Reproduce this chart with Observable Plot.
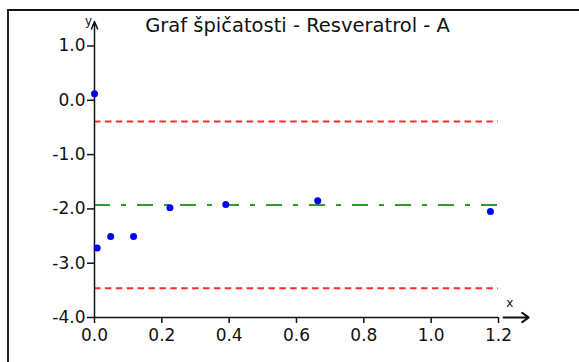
<!DOCTYPE html>
<html>
<head>
<meta charset="utf-8">
<script src="https://cdn.jsdelivr.net/npm/d3@7"></script>
<script src="https://cdn.jsdelivr.net/npm/@observablehq/plot@0.6"></script>
<style>
  html, body { margin: 0; padding: 0; background: #fff; }
  #wrap { position: relative; width: 579px; height: 362px; overflow: hidden; background: #fff; }
  #wrap svg { position: absolute; left: 0; top: 0; }
  /* panel edge: top and left sides of a sunken frame */
  #edge { position: absolute; left: 7px; top: 9px; width: 640px; height: 420px;
          border-top: 2px solid #111; border-left: 2px solid #222; pointer-events: none; }
</style>
</head>
<body>
<div id="wrap"><div id="edge"></div></div>
<script>
// Kurtosis plot – Resveratrol, series A
const title = "Graf špičatosti - Resveratrol - A";

// sample points
const xValues = [0.0, 0.008, 0.048, 0.116, 0.224, 0.39, 0.663, 1.176];
const yValues = [0.12, -2.72, -2.51, -2.51, -1.98, -1.92, -1.85, -2.05];

// reference levels: mean and the two limits
const meanLevel = -1.93;
const upperLimit = -0.39;
const lowerLimit = -3.46;

// axis ticks
const xTicks = [0, 0.2, 0.4, 0.6, 0.8, 1.0, 1.2];
const yTicks = [-4, -3, -2, -1, 0, 1];

// axis extents (the arrows run a little past the last tick)
const xMax = 1.2, yMin = -4, yMax = 1;
const yArrowTip = 1.45;
const xArrowStart = 1.215, xArrowTip = 1.29;

const points = xValues.map((x, i) => ({x, y: yValues[i]}));
const fmt = d => d.toFixed(1);

const chart = Plot.plot({
  width: 579,
  height: 362,
  marginLeft: 94,
  marginRight: 81,
  marginTop: 45.5,
  marginBottom: 45,
  style: {fontFamily: "'DejaVu Sans', sans-serif", fontSize: "17px", color: "#111", background: "transparent", overflow: "visible"},
  x: {domain: [0, xMax]},
  y: {domain: [yMin, yMax]},
  marks: [
    // limits and mean
    Plot.ruleY([upperLimit, lowerLimit], {x1: 0, x2: xMax, stroke: "#ff2a2a", strokeWidth: 2, strokeDasharray: "6.5 4.4"}),
    Plot.ruleY([meanLevel], {x1: 0, x2: xMax, stroke: "#2f9a2f", strokeWidth: 2, strokeDasharray: "16 11 5 11"}),
    // axis lines with arrows
    Plot.ruleY([yMin], {x1: 0, x2: xMax, stroke: "#111", strokeWidth: 1.5}),
    Plot.arrow([{x1: 0, y1: yMin, x2: 0, y2: yArrowTip}], {x1: "x1", y1: "y1", x2: "x2", y2: "y2", stroke: "#111", strokeWidth: 1.5, headLength: 8, headAngle: 45}),
    Plot.arrow([{x1: xArrowStart, y1: yMin, x2: xArrowTip, y2: yMin}], {x1: "x1", y1: "y1", x2: "x2", y2: "y2", stroke: "#111", strokeWidth: 2, headLength: 6, headAngle: 70}),
    Plot.axisX(xTicks, {tickFormat: fmt, tickSize: 6, tickPadding: 5, strokeWidth: 1.5, label: null}),
    Plot.axisY(yTicks, {tickFormat: fmt, tickSize: 7, tickPadding: 2, strokeWidth: 1.5, label: null}),
    Plot.text(["y"], {x: 0, y: yArrowTip, dx: -6, dy: 0, fontSize: 12, lineAnchor: "middle"}),
    Plot.text(["x"], {x: xArrowTip, y: yMin, dx: -19, dy: -14, fontSize: 12, lineAnchor: "middle"}),
    // data
    Plot.dot(points, {x: "x", y: "y", r: 3.5, fill: "#0000ff", stroke: "none"}),
    // title
    Plot.text([title], {frameAnchor: "top", dx: 1, dy: -20.5, fontSize: 19.5, lineAnchor: "middle"})
  ]
});
document.getElementById("wrap").prepend(chart);
</script>
</body>
</html>
